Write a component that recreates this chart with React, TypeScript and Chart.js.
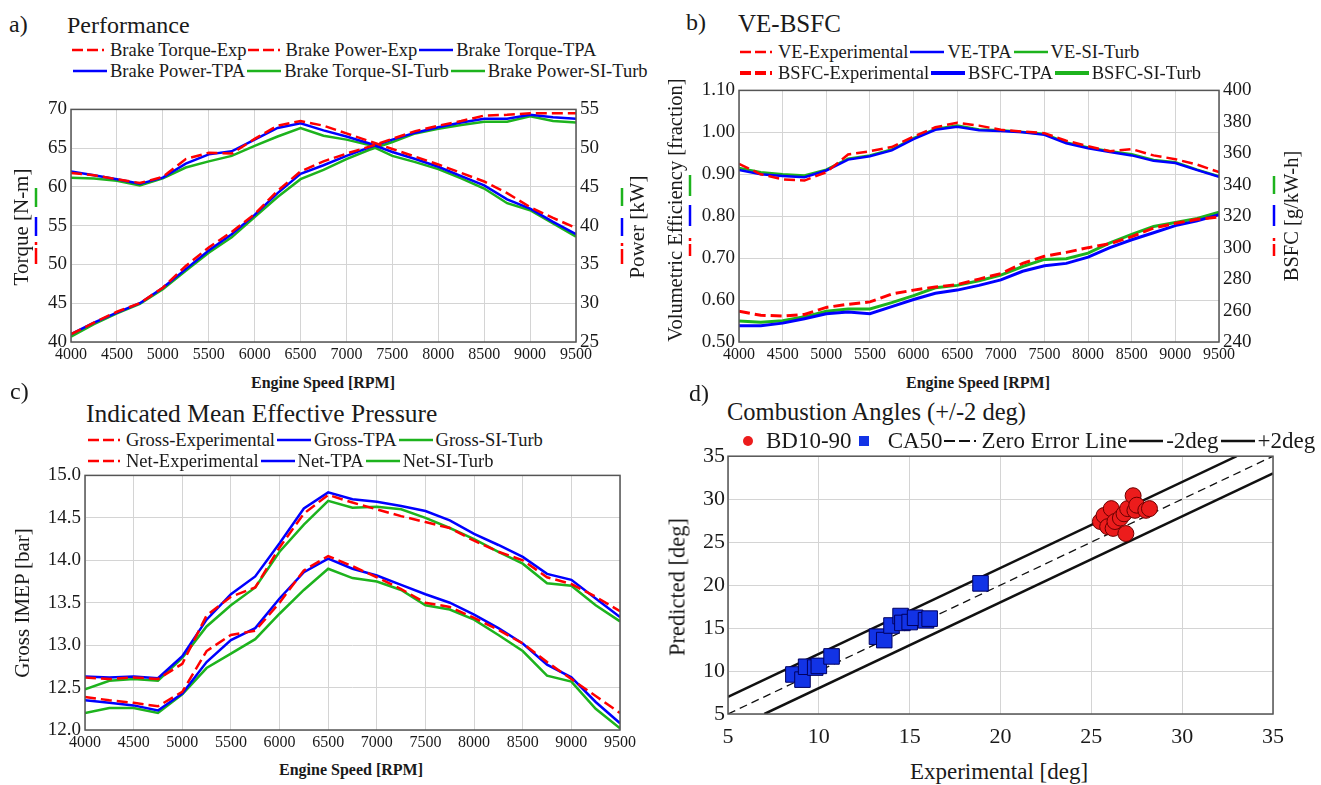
import React, { useEffect, useRef } from "react";
import { Chart, registerables } from "chart.js";
Chart.register(...registerables);

const FONT = "'Liberation Serif', 'Times New Roman', Times, serif";
Chart.defaults.font.family = FONT;
const RED = "#ff0000";
const BLUE = "#0000ff";
const GREEN = "#1db31d";
const GRID = "#d4d4d4";
const TXT = "#1a1a1a";

// ---------- data ----------
const RPM = [4000, 4250, 4500, 4750, 5000, 5250, 5500, 5750, 6000, 6250, 6500, 6750, 7000, 7250, 7500, 7750, 8000, 8250, 8500, 8750, 9000, 9250, 9500];

// a) Performance
const torqueExp = [61.8, 61.5, 61.0, 60.5, 61.3, 63.6, 64.4, 64.3, 66.2, 67.9, 68.5, 67.9, 66.9, 65.9, 64.9, 63.9, 62.9, 61.8, 60.7, 59.2, 57.4, 56.0, 54.7];
const torqueTPA = [62.0, 61.5, 61.0, 60.4, 61.2, 63.0, 64.2, 64.6, 66.1, 67.6, 68.2, 67.3, 66.5, 65.6, 64.5, 63.6, 62.6, 61.4, 60.2, 58.4, 57.2, 55.5, 53.9];
const torqueSI = [61.2, 61.1, 60.8, 60.2, 61.1, 62.5, 63.3, 64.0, 65.3, 66.5, 67.6, 66.6, 66.1, 65.4, 64.0, 63.2, 62.3, 61.1, 59.8, 57.9, 57.0, 55.3, 53.6];
const powerExp = [26.0, 27.5, 28.9, 30.0, 32.0, 34.8, 37.2, 39.2, 41.5, 44.5, 47.0, 48.3, 49.3, 50.2, 51.2, 52.2, 52.9, 53.5, 54.2, 54.3, 54.5, 54.5, 54.5];
const powerTPA = [26.0, 27.5, 28.8, 30.0, 32.0, 34.4, 36.8, 38.9, 41.4, 44.2, 46.7, 47.8, 49.0, 50.1, 51.1, 52.0, 52.7, 53.3, 53.8, 53.8, 54.3, 54.0, 53.8];
const powerSI = [25.7, 27.3, 28.7, 29.9, 31.8, 34.2, 36.5, 38.5, 41.1, 43.7, 46.0, 47.2, 48.6, 49.8, 50.8, 51.9, 52.5, 53.0, 53.4, 53.4, 54.1, 53.5, 53.3];

// b) VE-BSFC
const veExp = [0.925, 0.9, 0.888, 0.885, 0.905, 0.947, 0.955, 0.965, 0.99, 1.012, 1.023, 1.016, 1.006, 1.002, 0.998, 0.98, 0.967, 0.955, 0.96, 0.945, 0.936, 0.923, 0.905];
const veTPA = [0.91, 0.9, 0.896, 0.893, 0.909, 0.935, 0.943, 0.957, 0.984, 1.006, 1.013, 1.005, 1.003, 1.0, 0.994, 0.974, 0.962, 0.953, 0.945, 0.932, 0.927, 0.91, 0.894];
const veSI = [0.915, 0.905, 0.9, 0.897, 0.911, 0.937, 0.945, 0.959, 0.986, 1.008, 1.016, 1.007, 1.005, 1.001, 0.996, 0.976, 0.964, 0.955, 0.948, 0.934, 0.929, 0.911, 0.895];
const bsfcExp = [259.5, 257, 256.5, 257.5, 262, 264, 265.5, 270.5, 273, 275, 276.5, 280, 283.5, 290, 294.5, 297, 300, 302.5, 307, 312.5, 315.5, 318, 319.5];
const bsfcTPA = [250.3, 250.3, 252, 254.8, 257.9, 259, 258, 262.5, 267, 271, 273, 276, 279.5, 285, 288.5, 290, 294, 300, 305, 309.5, 314, 317, 321];
const bsfcSI = [253.3, 252.5, 253.5, 256, 259.5, 261, 261, 265, 269.5, 274.5, 276, 279, 282.5, 288, 292.5, 293, 296.5, 303, 308.5, 313.5, 316, 318.5, 322.5];

// c) IMEP
const grossExp = [12.62, 12.6, 12.62, 12.6, 12.78, 13.35, 13.57, 13.68, 14.15, 14.55, 14.77, 14.68, 14.6, 14.52, 14.45, 14.38, 14.23, 14.1, 14.0, 13.8, 13.72, 13.57, 13.4];
const grossTPA = [12.63, 12.62, 12.63, 12.61, 12.87, 13.3, 13.6, 13.81, 14.2, 14.61, 14.8, 14.72, 14.69, 14.64, 14.58, 14.47, 14.31, 14.18, 14.04, 13.84, 13.77, 13.55, 13.33];
const grossSI = [12.48, 12.58, 12.6, 12.58, 12.85, 13.22, 13.47, 13.68, 14.1, 14.42, 14.7, 14.62, 14.63, 14.6, 14.5, 14.38, 14.25, 14.1, 13.96, 13.73, 13.7, 13.47, 13.28];
const netExp = [12.39, 12.35, 12.32, 12.28, 12.45, 12.93, 13.12, 13.17, 13.5, 13.88, 14.05, 13.93, 13.8, 13.66, 13.5, 13.45, 13.32, 13.18, 13.02, 12.8, 12.6, 12.4, 12.2];
const netTPA = [12.35, 12.32, 12.29, 12.23, 12.43, 12.8, 13.06, 13.2, 13.55, 13.86, 14.02, 13.9, 13.82, 13.71, 13.6, 13.5, 13.36, 13.2, 13.02, 12.77, 12.62, 12.33, 12.08];
const netSI = [12.2, 12.26, 12.26, 12.2, 12.42, 12.73, 12.9, 13.07, 13.37, 13.65, 13.9, 13.79, 13.75, 13.65, 13.47, 13.42, 13.3, 13.12, 12.93, 12.64, 12.57, 12.25, 12.02];

// d) Combustion angles
const caExp = [8.6, 9.1, 9.3, 9.8, 10.0, 10.7, 13.2, 13.6, 14.0, 14.5, 14.6, 15.0, 15.3, 15.9, 16.1, 18.9];
const caPred = [9.6, 9.0, 10.5, 10.4, 10.6, 11.7, 14.0, 13.6, 15.3, 16.4, 15.6, 15.7, 16.2, 15.9, 16.1, 20.2];
const bdExp = [25.5, 25.7, 25.9, 26.1, 26.2, 26.3, 26.6, 26.8, 26.9, 27.0, 27.3, 27.4, 27.5, 28.0, 28.2];
const bdPred = [27.4, 28.1, 26.8, 28.9, 26.6, 27.4, 27.8, 28.3, 26.0, 28.9, 30.4, 28.7, 29.3, 28.7, 28.9];
const zeroX = [5, 35];
const zeroY = [5, 35];
const minusX = [5, 33];
const minusY = [7, 35];
const plusX = [7, 35];
const plusY = [5, 33];

// ---------- helpers ----------
const zip = (xs: number[], ys: number[]) => xs.map((x, i) => ({ x, y: ys[i] }));

const lineDs = (label: string, ys: number[], color: string, dashed: boolean, yAxisID = "y", width = 2.5) => ({
  type: "line",
  label,
  data: zip(RPM, ys),
  borderColor: color,
  backgroundColor: color,
  borderWidth: width,
  borderDash: dashed ? [11, 5] : [],
  pointRadius: 0,
  tension: 0,
  fill: false,
  yAxisID,
});

const boxPlugin = {
  id: "box",
  afterDatasetsDraw(chart: any) {
    const { ctx, chartArea: a } = chart;
    ctx.save();
    ctx.strokeStyle = "#555";
    ctx.lineWidth = 1.5;
    ctx.strokeRect(a.left, a.top, a.right - a.left, a.bottom - a.top);
    ctx.restore();
  },
};

const baseOpts = (padding: any) => ({
  responsive: false,
  maintainAspectRatio: false,
  animation: false,
  events: [],
  layout: { padding },
  plugins: { legend: { display: false }, tooltip: { enabled: false }, title: { display: false } },
});

const xScale = (min: number, max: number, step: number, height: number, size: number, pad = 3) => ({
  type: "linear",
  min,
  max,
  afterFit: (s: any) => {
    s.height = height;
  },
  ticks: { stepSize: step, autoSkip: false, maxRotation: 0, minRotation: 0, padding: pad, color: TXT, font: { family: FONT, size, weight: "normal" }, callback: (v: any) => String(v) },
  grid: { color: GRID, drawTicks: false, lineWidth: 1 },
  border: { display: false },
});

const yScale = (min: number, max: number, step: number, width: number, pos: string, size: number, grid: boolean, dec: number, pad = 4) => ({
  type: "linear",
  position: pos,
  min,
  max,
  afterFit: (s: any) => {
    s.width = width;
  },
  ticks: { stepSize: step, padding: pad, color: TXT, font: { family: FONT, size, weight: "normal" }, callback: (v: any) => Number(v).toFixed(dec) },
  grid: { display: grid, color: GRID, drawTicks: false, lineWidth: 1 },
  border: { display: false },
});

// ---------- chart configs ----------
const cfgA = () => ({
  type: "line",
  data: {
    datasets: [
      lineDs("Brake Torque-Exp", torqueExp, RED, true, "y"),
      lineDs("Brake Power-Exp", powerExp, RED, true, "y1"),
      lineDs("Brake Torque-TPA", torqueTPA, BLUE, false, "y"),
      lineDs("Brake Power-TPA", powerTPA, BLUE, false, "y1"),
      lineDs("Brake Torque-SI-Turb", torqueSI, GREEN, false, "y"),
      lineDs("Brake Power-SI-Turb", powerSI, GREEN, false, "y1"),
    ],
  },
  options: {
    ...baseOpts({ top: 10, left: 0, right: 0, bottom: 0 }),
    scales: {
      x: xScale(4000, 9500, 500, 25, 16),
      y: yScale(40, 70, 5, 71, "left", 19, true, 0),
      y1: yScale(25, 55, 5, 84, "right", 19, false, 0),
    },
  },
  plugins: [boxPlugin],
});

const cfgB = () => ({
  type: "line",
  data: {
    datasets: [
      lineDs("VE-Experimental", veExp, RED, true, "y"),
      lineDs("BSFC-Experimental", bsfcExp, RED, true, "y1", 3),
      lineDs("VE-TPA", veTPA, BLUE, false, "y"),
      lineDs("BSFC-TPA", bsfcTPA, BLUE, false, "y1", 3),
      lineDs("VE-SI-Turb", veSI, GREEN, false, "y"),
      lineDs("BSFC-SI-Turb", bsfcSI, GREEN, false, "y1", 3),
    ],
  },
  options: {
    ...baseOpts({ top: 7, left: 0, right: 0, bottom: 0 }),
    scales: {
      x: xScale(4000, 9500, 500, 25, 16),
      y: yScale(0.5, 1.1, 0.1, 79, "left", 19, true, 2),
      y1: yScale(240, 400, 20, 102, "right", 19, false, 0),
    },
  },
  plugins: [boxPlugin],
});

const cfgC = () => ({
  type: "line",
  data: {
    datasets: [
      lineDs("Gross-Experimental", grossExp, RED, true),
      lineDs("Net-Experimental", netExp, RED, true),
      lineDs("Gross-TPA", grossTPA, BLUE, false),
      lineDs("Net-TPA", netTPA, BLUE, false),
      lineDs("Gross-SI-Turb", grossSI, GREEN, false),
      lineDs("Net-SI-Turb", netSI, GREEN, false),
    ],
  },
  options: {
    ...baseOpts({ top: 9, left: 0, right: 40, bottom: 0 }),
    scales: {
      x: xScale(4000, 9500, 500, 30, 16),
      y: yScale(12, 15, 0.5, 85, "left", 19, true, 1),
    },
  },
  plugins: [boxPlugin],
});

const cfgD = () => ({
  type: "scatter",
  data: {
    datasets: [
      {
        label: "BD10-90",
        data: zip(bdExp, bdPred),
        pointStyle: "circle",
        pointRadius: 8,
        backgroundColor: "#ec1c1c",
        borderColor: "#6a0000",
        borderWidth: 1,
      },
      {
        label: "CA50",
        data: zip(caExp, caPred),
        pointStyle: "rect",
        pointRadius: 11,
        backgroundColor: "#1233e6",
        borderColor: "#000060",
        borderWidth: 1,
      },
      {
        label: "Zero Error Line",
        data: zip(zeroX, zeroY),
        showLine: true,
        pointRadius: 0,
        borderColor: "#111",
        borderWidth: 1.3,
        borderDash: [8, 5],
      },
      {
        label: "-2deg",
        data: zip(plusX, plusY),
        showLine: true,
        pointRadius: 0,
        borderColor: "#111",
        borderWidth: 2.5,
      },
      {
        label: "+2deg",
        data: zip(minusX, minusY),
        showLine: true,
        pointRadius: 0,
        borderColor: "#111",
        borderWidth: 2.5,
      },
    ],
  },
  options: {
    ...baseOpts({ top: 9, left: 0, right: 48, bottom: 0 }),
    scales: {
      x: xScale(5, 35, 5, 40, 22, 10),
      y: yScale(5, 35, 5, 68, "left", 22, true, 0, 3),
    },
  },
  plugins: [boxPlugin],
});

// ---------- components ----------
function ChartBox({ left, top, width, height, make }: any) {
  const ref = useRef<HTMLCanvasElement>(null);
  useEffect(() => {
    const c = new Chart(ref.current as HTMLCanvasElement, make() as any);
    let dead = false;
    const redraw = () => {
      if (!dead) c.update();
    };
    const fonts = (document as any).fonts;
    if (fonts) {
      try {
        fonts.load("19px 'Liberation Serif'").then(redraw, () => {});
        fonts.ready.then(redraw, () => {});
      } catch (e) {}
    }
    const timers = [30, 120, 300, 700].map((t) => setTimeout(redraw, t));
    return () => {
      dead = true;
      timers.forEach(clearTimeout);
      c.destroy();
    };
  }, []);
  return (
    <div style={{ position: "absolute", left, top, width, height }}>
      <canvas ref={ref} width={width} height={height} style={{ width, height, display: "block" }} />
    </div>
  );
}

type Item = { s: string; c: string; t: string; lw?: number };

function Sample({ it }: { it: Item }) {
  const w = 37;
  const lw = it.lw ?? 2.5;
  if (it.s === "dash")
    return (
      <svg width={w} height={12} style={{ display: "block", flex: "none" }}>
        <line x1={0} y1={6} x2={w} y2={6} stroke={it.c} strokeWidth={lw} strokeDasharray="11,4,11,4,2,5" />
      </svg>
    );
  if (it.s === "line")
    return (
      <svg width={w} height={12} style={{ display: "block", flex: "none" }}>
        <line x1={1} y1={6} x2={w - 2} y2={6} stroke={it.c} strokeWidth={lw} />
      </svg>
    );
  if (it.s === "circle")
    return (
      <svg width={32} height={14} style={{ display: "block", flex: "none" }}>
        <circle cx={15} cy={7} r={5} fill={it.c} />
      </svg>
    );
  return (
    <svg width={34} height={14} style={{ display: "block", flex: "none" }}>
      <rect x={6} y={2} width={10} height={10} fill={it.c} />
    </svg>
  );
}

function Legend({ left, cy, size, items }: { left: number; cy: number; size: number; items: Item[] }) {
  return (
    <div
      style={{
        position: "absolute",
        left,
        top: cy - 12,
        height: 24,
        lineHeight: "24px",
        display: "flex",
        alignItems: "center",
        whiteSpace: "nowrap",
        fontSize: size,
        color: TXT,
      }}
    >
      {items.map((it, i) => (
        <React.Fragment key={i}>
          <Sample it={it} />
          <span style={{ marginLeft: 1, marginRight: 1 }}>{it.t}</span>
        </React.Fragment>
      ))}
    </div>
  );
}

function Txt({ x, cy, size, children, bold }: any) {
  return (
    <div style={{ position: "absolute", left: x, top: cy - size * 0.6, fontSize: size, lineHeight: `${size * 1.2}px`, whiteSpace: "nowrap", color: TXT, fontWeight: bold ? "bold" : "normal" }}>
      {children}
    </div>
  );
}

function CTxt({ cx, cy, size, children, bold, rot }: any) {
  return (
    <div
      style={{
        position: "absolute",
        left: cx,
        top: cy,
        transform: `translate(-50%, -50%)${rot ? " rotate(-90deg)" : ""}`,
        fontSize: size,
        lineHeight: `${size * 1.2}px`,
        whiteSpace: "nowrap",
        color: TXT,
        fontWeight: bold ? "bold" : "normal",
      }}
    >
      {children}
    </div>
  );
}

function VMarks({ x, marks }: { x: number; marks: [string, number, number, boolean][] }) {
  return (
    <>
      {marks.map(([c, y1, y2, d], i) => (
        <svg key={i} width={6} height={y2 - y1} style={{ position: "absolute", left: x - 3, top: y1 }}>
          <line x1={3} y1={0} x2={3} y2={y2 - y1} stroke={c} strokeWidth={2.5} strokeDasharray={d ? "3,3,30" : undefined} />
        </svg>
      ))}
    </>
  );
}

export default function App() {
  return (
    <div style={{ position: "absolute", left: 0, top: 0, width: 1321, height: 785, background: "#fff", overflow: "hidden", fontFamily: FONT }}>
      <ChartBox left={0} top={94} width={660} height={273} make={cfgA} />
      <ChartBox left={660} top={75} width={661} height={292} make={cfgB} />
      <ChartBox left={0} top={460} width={660} height={300} make={cfgC} />
      <ChartBox left={660} top={440} width={661} height={314} make={cfgD} />

      {/* panel a */}
      <Txt x={9} cy={24} size={24}>a)</Txt>
      <Txt x={67} cy={25} size={24}>Performance</Txt>
      <Legend
        left={72}
        cy={50}
        size={18.5}
        items={[
          { s: "dash", c: RED, t: "Brake Torque-Exp" },
          { s: "dash", c: RED, t: "Brake Power-Exp" },
          { s: "line", c: BLUE, t: "Brake Torque-TPA" },
        ]}
      />
      <Legend
        left={72}
        cy={71}
        size={18.5}
        items={[
          { s: "line", c: BLUE, t: "Brake Power-TPA" },
          { s: "line", c: GREEN, t: "Brake Torque-SI-Turb" },
          { s: "line", c: GREEN, t: "Brake Power-SI-Turb" },
        ]}
      />
      <CTxt cx={22} cy={227} size={21} rot>Torque [N-m]</CTxt>
      <VMarks x={36} marks={[[GREEN, 188, 207, false], [BLUE, 217, 236, false], [RED, 242, 264, true]]} />
      <CTxt cx={638} cy={227} size={21} rot>Power [kW]</CTxt>
      <VMarks x={622} marks={[[GREEN, 188, 206, false], [BLUE, 218, 236, false], [RED, 243, 264, true]]} />
      <CTxt cx={323} cy={383} size={16} bold>Engine Speed [RPM]</CTxt>

      {/* panel b */}
      <Txt x={686} cy={22} size={24}>b)</Txt>
      <Txt x={738} cy={24} size={25}>VE-BSFC</Txt>
      <Legend
        left={740}
        cy={52}
        size={18.5}
        items={[
          { s: "dash", c: RED, t: "VE-Experimental" },
          { s: "line", c: BLUE, t: "VE-TPA" },
          { s: "line", c: GREEN, t: "VE-SI-Turb" },
        ]}
      />
      <Legend
        left={740}
        cy={73}
        size={18.5}
        items={[
          { s: "dash", c: RED, t: "BSFC-Experimental", lw: 4 },
          { s: "line", c: BLUE, t: "BSFC-TPA", lw: 4 },
          { s: "line", c: GREEN, t: "BSFC-SI-Turb", lw: 4 },
        ]}
      />
      <CTxt cx={675} cy={210} size={20.5} rot>Volumetric Efficiency [fraction]</CTxt>
      <VMarks x={690} marks={[[GREEN, 175, 196, false], [BLUE, 205, 226, false], [RED, 238, 256, true]]} />
      <CTxt cx={1291} cy={216} size={20.5} rot>BSFC [g/kW-h]</CTxt>
      <VMarks x={1274} marks={[[GREEN, 176, 194, false], [BLUE, 205, 226, false], [RED, 238, 256, true]]} />
      <CTxt cx={978} cy={383} size={16} bold>Engine Speed [RPM]</CTxt>

      {/* panel c */}
      <Txt x={10} cy={391} size={24}>c)</Txt>
      <Txt x={86} cy={414} size={25.5}>Indicated Mean Effective Pressure</Txt>
      <Legend
        left={88}
        cy={440}
        size={18.5}
        items={[
          { s: "dash", c: RED, t: "Gross-Experimental" },
          { s: "line", c: BLUE, t: "Gross-TPA" },
          { s: "line", c: GREEN, t: "Gross-SI-Turb" },
        ]}
      />
      <Legend
        left={88}
        cy={461}
        size={18.5}
        items={[
          { s: "dash", c: RED, t: "Net-Experimental" },
          { s: "line", c: BLUE, t: "Net-TPA" },
          { s: "line", c: GREEN, t: "Net-SI-Turb" },
        ]}
      />
      <CTxt cx={23} cy={603} size={21} rot>Gross IMEP [bar]</CTxt>
      <CTxt cx={351} cy={770} size={16} bold>Engine Speed [RPM]</CTxt>

      {/* panel d */}
      <Txt x={689} cy={393} size={24}>d)</Txt>
      <Txt x={727} cy={412} size={24.5}>Combustion Angles (+/-2 deg)</Txt>
      <Legend
        left={733}
        cy={441}
        size={23}
        items={[
          { s: "circle", c: "#ec1c1c", t: "BD10-90" },
          { s: "square", c: "#1233e6", t: "CA50" },
          { s: "dash", c: "#111", t: "Zero Error Line", lw: 2 },
          { s: "line", c: "#111", t: "-2deg" },
          { s: "line", c: "#111", t: "+2deg" },
        ]}
      />
      <CTxt cx={677} cy={587} size={22.5} rot>Predicted [deg]</CTxt>
      <CTxt cx={999} cy={772} size={23}>Experimental [deg]</CTxt>
    </div>
  );
}
